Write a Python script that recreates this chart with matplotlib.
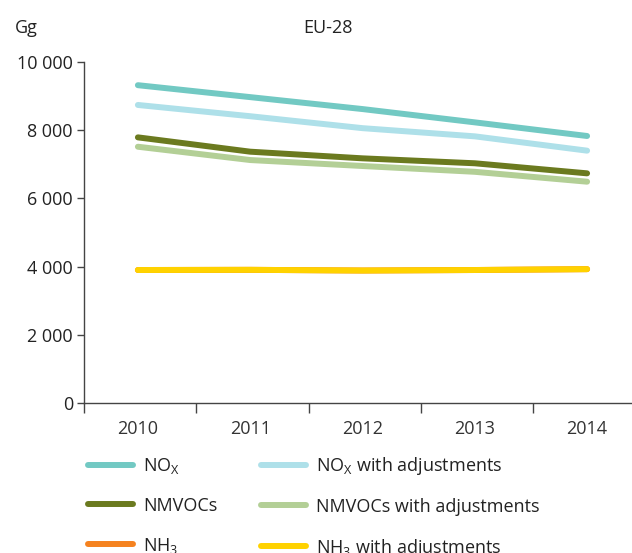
import numpy as np
import matplotlib
matplotlib.use("Agg")
import matplotlib.pyplot as plt
from matplotlib.ticker import FixedLocator

plt.rcParams['font.family'] = ['Open Sans', 'DejaVu Sans']
plt.rcParams['mathtext.fontset'] = 'custom'
plt.rcParams['mathtext.rm'] = 'Open Sans'
plt.rcParams['mathtext.it'] = 'Open Sans'

years = ['2010', '2011', '2012', '2013', '2014']
nox = [9320, 8970, 8620, 8230, 7830]
nox_adj = [8740, 8410, 8060, 7820, 7400]
nmvoc = [7790, 7370, 7175, 7030, 6735]
nmvoc_adj = [7515, 7125, 6950, 6780, 6490]
nh3 = [3900, 3905, 3885, 3900, 3925]
nh3_adj = [3900, 3905, 3885, 3900, 3925]

series = [
    (r'NO$_\mathrm{X}$', nox, '#72c9c3'),
    ('NMVOCs', nmvoc, '#6b7a1f'),
    (r'NH$_\mathrm{3}$', nh3, '#f5821f'),
    (r'NO$_\mathrm{X}$ with adjustments', nox_adj, '#aee0e9'),
    ('NMVOCs with adjustments', nmvoc_adj, '#b3cf96'),
    (r'NH$_\mathrm{3}$ with adjustments', nh3_adj, '#ffd200'),
]

fig = plt.figure(figsize=(6.32, 5.53), dpi=100)
ax = fig.add_axes([84 / 632, 150 / 553, 548 / 632, 341 / 553])

x = np.arange(len(years))
handles = []
for label, vals, col in series:
    h, = ax.plot(x, vals, color=col, lw=4.3, solid_capstyle='round', label=label)
    handles.append(h)

ax.set_xlim(-0.48, 4.40)
ax.set_ylim(0, 10000)
ax.set_yticks(np.arange(0, 10001, 2000))
ax.set_yticklabels(['0', '2 000', '4 000', '6 000', '8 000', '10 000'])
ax.set_xticks(x)
ax.set_xticklabels(years)
ax.xaxis.set_minor_locator(FixedLocator(np.arange(-0.48, 4.4, 1.0)))
ax.tick_params(axis='x', which='major', length=0, pad=12, labelsize=13, colors='#333333')
ax.tick_params(axis='x', which='minor', length=7, width=1, color='#444444', direction='out')
ax.tick_params(axis='y', which='major', length=5, width=1, color='#444444', labelsize=13,
               labelcolor='#222222', pad=3)

for s in ['top', 'right']:
    ax.spines[s].set_visible(False)
for s in ['left', 'bottom']:
    ax.spines[s].set_color('#444444')
    ax.spines[s].set_linewidth(1)

fig.text(15 / 632, 1 - 28 / 553, 'Gg', fontsize=13, va='center', ha='left', color='#222222')
fig.text(328 / 632, 1 - 28 / 553, 'EU-28', fontsize=13, va='center', ha='center', color='#222222')

leg = fig.legend(handles=handles, loc='upper left', bbox_to_anchor=(88 / 632, 1 - 455 / 553),
                 ncol=2, frameon=False, fontsize=13, handlelength=2.5, handletextpad=0.55,
                 columnspacing=2.4, labelspacing=1.15, borderaxespad=0, borderpad=0)
for t in leg.get_texts():
    t.set_color('#222222')

fig.savefig('out.png', dpi=100)
